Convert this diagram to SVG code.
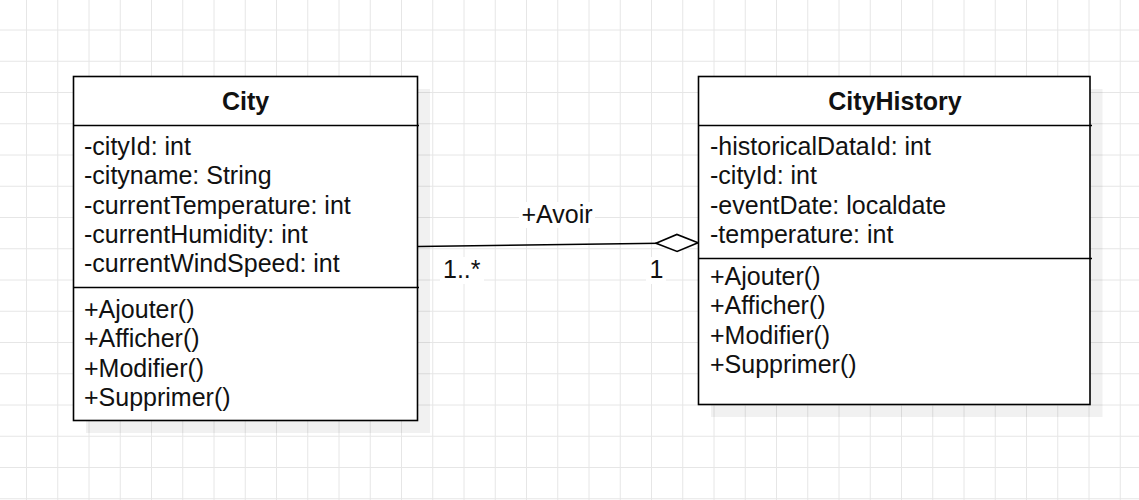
<svg xmlns="http://www.w3.org/2000/svg" width="1139" height="500" viewBox="0 0 1139 500">
<defs>
<style>
.grid{stroke:#e6e6e6;stroke-width:1;fill:none}
.box{fill:#fff;stroke:#000;stroke-width:1.6}
.shadow{fill:#000;fill-opacity:0.055}
.div{stroke:#000;stroke-width:1.6}
text{font-family:"Liberation Sans",Arial,Helvetica,sans-serif;font-size:25px;fill:#111}
.title{font-weight:bold;text-anchor:middle}
.edge{stroke:#000;stroke-width:1.6;fill:none}
.lbg{fill:#fff}
</style>
<marker id="diamond" viewBox="0 0 44 20" markerWidth="44" markerHeight="20" refX="43" refY="10" orient="auto" markerUnits="userSpaceOnUse">
<path d="M1,10 L22,1.5 L43,10 L22,18.5 Z" fill="#fff" stroke="#000" stroke-width="1.6"/>
</marker>
</defs>
<rect width="1139" height="500" fill="#fff"/>
<path class="grid" d="M26.5,0V500M57.75,0V500M89,0V500M120.25,0V500M151.5,0V500M182.75,0V500M214,0V500M245.25,0V500M276.5,0V500M307.75,0V500M339,0V500M370.25,0V500M401.5,0V500M432.75,0V500M464,0V500M495.25,0V500M526.5,0V500M557.75,0V500M589,0V500M620.25,0V500M651.5,0V500M682.75,0V500M714,0V500M745.25,0V500M776.5,0V500M807.75,0V500M839,0V500M870.25,0V500M901.5,0V500M932.75,0V500M964,0V500M995.25,0V500M1026.5,0V500M1057.75,0V500M1089,0V500M1120.25,0V500M0,30H1139M0,61.25H1139M0,92.5H1139M0,123.75H1139M0,155H1139M0,186.25H1139M0,217.5H1139M0,248.75H1139M0,280H1139M0,311.25H1139M0,342.5H1139M0,373.75H1139M0,405H1139M0,436.25H1139M0,467.5H1139M0,498.75H1139"/>
<g id="City">
<rect class="shadow" x="86" y="89" width="344" height="344"/>
<rect class="box" x="73.5" y="76.5" width="344" height="344"/>
<line class="div" x1="73.5" y1="125.5" x2="419" y2="125.5"/>
<line class="div" x1="73.5" y1="287.5" x2="419" y2="287.5"/>
<text class="title" x="245.5" y="110">City</text>
<text x="84" y="155">-cityId: int</text>
<text x="84" y="184.3">-cityname: String</text>
<text x="84" y="213.5">-currentTemperature: int</text>
<text x="84" y="242.8">-currentHumidity: int</text>
<text x="84" y="272">-currentWindSpeed: int</text>
<text x="84" y="318">+Ajouter()</text>
<text x="84" y="347.3">+Afficher()</text>
<text x="84" y="376.5">+Modifier()</text>
<text x="84" y="405.8">+Supprimer()</text>
</g>
<g id="CityHistory">
<rect class="shadow" x="711" y="89" width="391.5" height="328"/>
<rect class="box" x="698.5" y="76.5" width="391.5" height="328"/>
<line class="div" x1="698.5" y1="125.5" x2="1092" y2="125.5"/>
<line class="div" x1="698.5" y1="258.5" x2="1092" y2="258.5"/>
<text class="title" x="895" y="110">CityHistory</text>
<text x="710" y="155">-historicalDataId: int</text>
<text x="710" y="184.3">-cityId: int</text>
<text x="710" y="213.5">-eventDate: localdate</text>
<text x="710" y="242.8">-temperature: int</text>
<text x="710" y="285">+Ajouter()</text>
<text x="710" y="314.3">+Afficher()</text>
<text x="710" y="343.5">+Modifier()</text>
<text x="710" y="372.8">+Supprimer()</text>
</g>
<g id="connectors">
<line class="edge" x1="418" y1="246.5" x2="698" y2="242.7" marker-end="url(#diamond)"/>
<rect class="lbg" x="519" y="202" width="76" height="26"/>
<text x="557" y="222.5" text-anchor="middle">+Avoir</text>
<rect class="lbg" x="440" y="257" width="44" height="27"/>
<text x="443" y="278">1..*</text>
<rect class="lbg" x="646" y="257" width="20" height="27"/>
<text x="649.5" y="277.5">1</text>
</g>
</svg>
